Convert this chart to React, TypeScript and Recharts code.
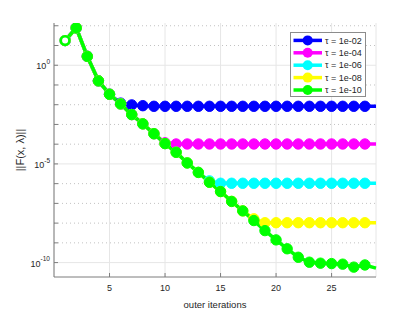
import React from "react";
import {
  LineChart,
  Line,
  XAxis,
  YAxis,
  CartesianGrid,
  ReferenceLine,
  Legend,
} from "recharts";

// outer iteration index
const iterations = [
  1, 2, 3, 4, 5, 6, 7, 8, 9, 10, 11, 12, 13, 14, 15, 16, 17, 18, 19, 20, 21,
  22, 23, 24, 25, 26, 27, 28, 29,
];

// log10 of ||F(x,lambda)|| for each tolerance
const tau02Log = [
  1.25, 1.89, 0.45, -0.79, -1.47, -1.92, -2.01, -2.05, -2.08, -2.08, -2.08,
  -2.08, -2.08, -2.08, -2.08, -2.08, -2.08, -2.08, -2.08, -2.08, -2.08, -2.08,
  -2.08, -2.08, -2.08, -2.08, -2.08, -2.08, -2.08,
];
const tau04Log = [
  1.25, 1.89, 0.45, -0.79, -1.47, -1.96, -2.5, -2.97, -3.47, -3.93, -3.99,
  -3.99, -3.99, -3.99, -3.99, -3.99, -3.99, -3.99, -3.99, -3.99, -3.99, -3.99,
  -3.99, -3.99, -3.99, -3.99, -3.99, -3.99, -3.99,
];
const tau06Log = [
  1.25, 1.89, 0.45, -0.79, -1.47, -1.96, -2.5, -2.97, -3.47, -3.97, -4.41,
  -4.95, -5.43, -5.86, -5.98, -5.98, -5.98, -5.98, -5.98, -5.98, -5.98, -5.98,
  -5.98, -5.98, -5.98, -5.98, -5.98, -5.98, -5.98,
];
const tau08Log = [
  1.25, 1.89, 0.45, -0.79, -1.47, -1.96, -2.5, -2.97, -3.47, -3.97, -4.41,
  -4.95, -5.43, -5.93, -6.4, -6.9, -7.38, -7.78, -7.98, -7.98, -7.98, -7.98,
  -7.98, -7.98, -7.98, -7.98, -7.98, -7.98, -7.98,
];
const tau10Log = [
  1.25, 1.89, 0.45, -0.79, -1.47, -1.96, -2.5, -2.97, -3.47, -3.97, -4.41,
  -4.95, -5.43, -5.93, -6.4, -6.9, -7.38, -7.87, -8.38, -8.85, -9.3, -9.73,
  -9.98, -10.03, -10.05, -10.08, -10.23, -10.12, -10.28,
];

const xTicks = [5, 10, 15, 20, 25];
const decadeExps = [-10, -9, -8, -7, -6, -5, -4, -3, -2, -1, 0, 1, 2];
const majorExps = [-10, -5, 0];

const series = [
  { key: "tau02", name: "τ = 1e-02", color: "#0000ff" },
  { key: "tau04", name: "τ = 1e-04", color: "#ff00ff" },
  { key: "tau06", name: "τ = 1e-06", color: "#00ffff" },
  { key: "tau08", name: "τ = 1e-08", color: "#ffff00" },
  { key: "tau10", name: "τ = 1e-10", color: "#00ff00" },
];

const data = iterations.map((it, i) => ({
  it,
  tau02: Math.pow(10, tau02Log[i]),
  tau04: Math.pow(10, tau04Log[i]),
  tau06: Math.pow(10, tau06Log[i]),
  tau08: Math.pow(10, tau08Log[i]),
  tau10: Math.pow(10, tau10Log[i]),
}));

const decades = decadeExps.map((e) => Math.pow(10, e));
const yDomain = [Math.pow(10, -10.73), Math.pow(10, 2.14)];

const FONT = "'Liberation Sans', Arial, sans-serif";
const AXIS = "#7d7d7d";
const TEXT = "#262626";

function DecadeTick({ x, y, payload }: any) {
  const e = Math.round(Math.log10(payload.value));
  if (e % 5 !== 0) return <g />;
  return (
    <text x={x} y={y} textAnchor="end" fill={TEXT} fontSize={9} fontFamily={FONT}>
      <tspan dy="0.45em">10</tspan>
      <tspan dy="-0.8em" fontSize={6.5}>
        {e}
      </tspan>
    </text>
  );
}

function makeDot(color: string) {
  return (p: any) => {
    const { cx, cy, index } = p;
    if (index === iterations.length - 1 || cx == null || cy == null)
      return <g key={`d${index}`} />;
    if (index === 0)
      return (
        <circle key={`d${index}`} cx={cx} cy={cy} r={4.3} fill="#fff" stroke={color} strokeWidth={2.6} />
      );
    return <circle key={`d${index}`} cx={cx} cy={cy} r={5.2} fill={color} stroke={color} strokeWidth={1} />;
  };
}

function TauLegend() {
  return (
    <div
      style={{
        width: 76,
        height: 65,
        border: "1px solid #8c8c8c",
        background: "#fff",
        boxSizing: "border-box",
      }}
    >
      <svg width={74} height={63} style={{ display: "block" }}>
        {series.map((s, i) => {
          const y = 7.4 + i * 12.4;
          return (
            <g key={s.key}>
              <line x1={2.5} x2={31} y1={y} y2={y} stroke={s.color} strokeWidth={3.5} />
              <circle cx={16.7} cy={y} r={5} fill={s.color} />
              <text x={34} y={y} dy="0.35em" fontSize={9} fill={TEXT} fontFamily={FONT}>
                {s.name}
              </text>
            </g>
          );
        })}
      </svg>
    </div>
  );
}

export default function App() {
  return (
    <div style={{ position: "absolute", left: 0, top: 0, width: 415, height: 312, background: "#fff" }}>
      <LineChart
        width={415}
        height={312}
        data={data}
        margin={{ top: 23, right: 39, left: 0, bottom: 0 }}
        style={{ fontFamily: FONT }}
      >
        <CartesianGrid horizontal={false} stroke="#e6e6e6" strokeWidth={1} />
        {decadeExps.map((e, i) => (
          <ReferenceLine
            key={e}
            y={decades[i]}
            stroke={majorExps.includes(e) ? "#e6e6e6" : "#c2c2c2"}
            strokeDasharray={majorExps.includes(e) ? undefined : "1 3"}
            strokeWidth={1}
          />
        ))}
        <XAxis
          dataKey="it"
          type="number"
          domain={[0, 29]}
          ticks={xTicks}
          height={35}
          axisLine={{ stroke: AXIS }}
          tickLine={{ stroke: AXIS }}
          tickSize={-4}
          tickMargin={12}
          tick={{ fill: TEXT, fontSize: 9, fontFamily: FONT }}
          label={{
            value: "outer iterations",
            position: "insideBottom",
            offset: 4,
            fill: TEXT,
            fontSize: 9.5,
            fontFamily: FONT,
          }}
        />
        <XAxis
          xAxisId="top"
          orientation="top"
          type="number"
          domain={[0, 29]}
          ticks={xTicks}
          height={0}
          axisLine={{ stroke: AXIS }}
          tickLine={{ stroke: AXIS }}
          tickSize={-4}
          tick={false}
        />
        <YAxis
          scale="log"
          type="number"
          domain={yDomain}
          allowDataOverflow
          ticks={decades}
          interval={0}
          width={54}
          axisLine={{ stroke: AXIS }}
          tickLine={{ stroke: AXIS }}
          tickSize={-4}
          tickMargin={8}
          tick={<DecadeTick />}
          label={{
            value: "||F(x, λ)||",
            angle: -90,
            position: "insideLeft",
            offset: 20,
            fill: TEXT,
            fontSize: 11,
            fontFamily: FONT,
            style: { textAnchor: "middle" },
          }}
        />
        <YAxis
          yAxisId="right"
          orientation="right"
          scale="log"
          type="number"
          domain={yDomain}
          allowDataOverflow
          ticks={decades}
          interval={0}
          width={0}
          axisLine={{ stroke: AXIS }}
          tickLine={{ stroke: AXIS }}
          tickSize={-4}
          tick={false}
        />
        <Legend
          layout="horizontal"
          align="center"
          verticalAlign="middle"
          content={() => <TauLegend />}
          wrapperStyle={{ left: 290, top: 32, width: 76, height: 65 }}
        />
        {series.map((s) => (
          <Line
            key={s.key}
            dataKey={s.key}
            name={s.name}
            type="linear"
            stroke={s.color}
            strokeWidth={3.5}
            dot={makeDot(s.color)}
            activeDot={false}
            isAnimationActive={false}
          />
        ))}
      </LineChart>
    </div>
  );
}
